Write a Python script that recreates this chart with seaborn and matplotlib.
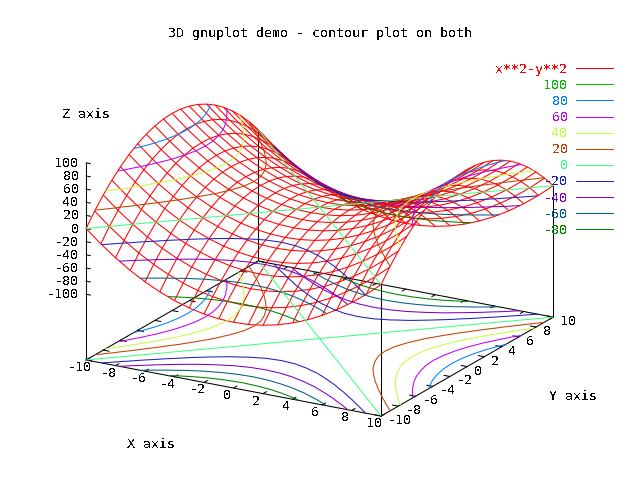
import matplotlib
matplotlib.use("Agg")
import matplotlib.pyplot as plt
from matplotlib.lines import Line2D
from mpl_toolkits.mplot3d import proj3d
import numpy as np
import seaborn as sns

x_samples = [-10, -9, -8, -7, -6, -5, -4, -3, -2, -1, 0, 1, 2, 3, 4, 5, 6, 7, 8, 9, 10]
y_samples = [-10, -9, -8, -7, -6, -5, -4, -3, -2, -1, 0, 1, 2, 3, 4, 5, 6, 7, 8, 9, 10]

# surface heights, one row per y sample
z_rows = [
    [0, -19, -36, -51, -64, -75, -84, -91, -96, -99, -100, -99, -96, -91, -84, -75, -64, -51, -36, -19, 0],
    [19, 0, -17, -32, -45, -56, -65, -72, -77, -80, -81, -80, -77, -72, -65, -56, -45, -32, -17, 0, 19],
    [36, 17, 0, -15, -28, -39, -48, -55, -60, -63, -64, -63, -60, -55, -48, -39, -28, -15, 0, 17, 36],
    [51, 32, 15, 0, -13, -24, -33, -40, -45, -48, -49, -48, -45, -40, -33, -24, -13, 0, 15, 32, 51],
    [64, 45, 28, 13, 0, -11, -20, -27, -32, -35, -36, -35, -32, -27, -20, -11, 0, 13, 28, 45, 64],
    [75, 56, 39, 24, 11, 0, -9, -16, -21, -24, -25, -24, -21, -16, -9, 0, 11, 24, 39, 56, 75],
    [84, 65, 48, 33, 20, 9, 0, -7, -12, -15, -16, -15, -12, -7, 0, 9, 20, 33, 48, 65, 84],
    [91, 72, 55, 40, 27, 16, 7, 0, -5, -8, -9, -8, -5, 0, 7, 16, 27, 40, 55, 72, 91],
    [96, 77, 60, 45, 32, 21, 12, 5, 0, -3, -4, -3, 0, 5, 12, 21, 32, 45, 60, 77, 96],
    [99, 80, 63, 48, 35, 24, 15, 8, 3, 0, -1, 0, 3, 8, 15, 24, 35, 48, 63, 80, 99],
    [100, 81, 64, 49, 36, 25, 16, 9, 4, 1, 0, 1, 4, 9, 16, 25, 36, 49, 64, 81, 100],
    [99, 80, 63, 48, 35, 24, 15, 8, 3, 0, -1, 0, 3, 8, 15, 24, 35, 48, 63, 80, 99],
    [96, 77, 60, 45, 32, 21, 12, 5, 0, -3, -4, -3, 0, 5, 12, 21, 32, 45, 60, 77, 96],
    [91, 72, 55, 40, 27, 16, 7, 0, -5, -8, -9, -8, -5, 0, 7, 16, 27, 40, 55, 72, 91],
    [84, 65, 48, 33, 20, 9, 0, -7, -12, -15, -16, -15, -12, -7, 0, 9, 20, 33, 48, 65, 84],
    [75, 56, 39, 24, 11, 0, -9, -16, -21, -24, -25, -24, -21, -16, -9, 0, 11, 24, 39, 56, 75],
    [64, 45, 28, 13, 0, -11, -20, -27, -32, -35, -36, -35, -32, -27, -20, -11, 0, 13, 28, 45, 64],
    [51, 32, 15, 0, -13, -24, -33, -40, -45, -48, -49, -48, -45, -40, -33, -24, -13, 0, 15, 32, 51],
    [36, 17, 0, -15, -28, -39, -48, -55, -60, -63, -64, -63, -60, -55, -48, -39, -28, -15, 0, 17, 36],
    [19, 0, -17, -32, -45, -56, -65, -72, -77, -80, -81, -80, -77, -72, -65, -56, -45, -32, -17, 0, 19],
    [0, -19, -36, -51, -64, -75, -84, -91, -96, -99, -100, -99, -96, -91, -84, -75, -64, -51, -36, -19, 0],
]

contour_levels = [100, 80, 60, 40, 20, 0, -20, -40, -60, -80]
level_colors = ["#00c000", "#0080ff", "#c000ff", "#c0ff40", "#c04000",
                "#40ff80", "#2020c0", "#8000c0", "#006080", "#008000"]
xy_ticks = [-10, -8, -6, -4, -2, 0, 2, 4, 6, 8, 10]
z_ticks = [100, 80, 60, 40, 20, 0, -20, -40, -60, -80, -100]

BASE_Z = -200
LW = 0.75

sns.set_style("white")
plt.rcParams["font.family"] = "DejaVu Sans Mono"
plt.rcParams["font.size"] = 9.6
plt.rcParams["text.color"] = "black"
plt.rcParams["text.antialiased"] = False

fig = plt.figure(figsize=(6.4, 4.8), dpi=100, facecolor="white")
ax = fig.add_axes([56.45 / 640, -23.15 / 480, 512.5 / 640, 512.5 / 480],
                  projection="3d", proj_type="ortho")
ax.view_init(elev=19.3, azim=-60.1)
ax.set_xlim(-10, 10)
ax.set_ylim(-10, 10)
ax.set_zlim(BASE_Z, 100)
ax.set_box_aspect((340, 345, 208.7))
ax.set_axis_off()
ax.computed_zorder = False


def line3d(xs, ys, zs, color="black", zorder=1):
    ax.plot(xs, ys, zs, color=color, lw=LW, zorder=zorder)


def label3d(x, y, z, s, ha):
    # flat text placed at the projected point of the box
    px, py, _ = proj3d.proj_transform(x, y, z, ax.get_proj())
    ax.text2D(px, py, s, transform=ax.transData, ha=ha, va="center")


# base rectangle and uprights to the surface corners
line3d([-10, 10, 10, -10, -10], [-10, -10, 10, 10, -10], [BASE_Z] * 5)
line3d([-10, -10], [-10, -10], [BASE_Z, 100])
line3d([10, 10], [-10, -10], [BASE_Z, 0])
line3d([10, 10], [10, 10], [BASE_Z, 0])
line3d([-10, -10], [10, 10], [BASE_Z, 0])

for t in xy_ticks:
    line3d([t, t], [-10, -9.6], [BASE_Z, BASE_Z])
    line3d([t, t], [10, 9.6], [BASE_Z, BASE_Z])
    line3d([-10, -9.6], [t, t], [BASE_Z, BASE_Z])
    line3d([10, 9.6], [t, t], [BASE_Z, BASE_Z])
    label3d(t + 0.33, -11.33, BASE_Z, str(t), "center")
    label3d(10.75, t - 0.48, BASE_Z, str(t), "left")

for t in z_ticks:
    line3d([-10, -9.7], [-10, -10], [t, t])
    label3d(-10.5, -10, t - 3, str(t), "right")

X, Y = np.meshgrid(x_samples, y_samples)
Z = np.array(z_rows, dtype=float)
ax.plot_wireframe(X, Y, Z, rstride=1, cstride=1, colors="#ff0000", linewidth=LW, zorder=2)

levels_up = contour_levels[::-1]
colors_up = sns.color_palette(level_colors[::-1], n_colors=len(level_colors))
ax.contour(X, Y, Z, levels=levels_up, colors=colors_up, linewidths=LW, zorder=3)
ax.contour(X, Y, Z, levels=levels_up, colors=colors_up, linewidths=LW,
           offset=BASE_Z, zdir="z", zorder=3)

handles = [Line2D([], [], color="#ff0000", lw=LW)]
labels = ["x**2-y**2"]
for lev, col in zip(contour_levels, level_colors):
    handles.append(Line2D([], [], color=col, lw=LW))
    labels.append(str(lev))
fig.legend(handles, labels, loc="upper right", bbox_to_anchor=(613 / 640, 1 - 63 / 480),
           markerfirst=False, frameon=False, labelcolor="linecolor", fontsize=9.6,
           handlelength=2.8, handletextpad=0.6, labelspacing=0.23, borderpad=0, borderaxespad=0)

fig.text(320 / 640, 1 - 33 / 480, "3D gnuplot demo - contour plot on both", ha="center", va="center")
fig.text(86 / 640, 1 - 115 / 480, "Z axis", ha="center", va="center")
fig.text(151 / 640, 1 - 445 / 480, "X axis", ha="center", va="center")
fig.text(573 / 640, 1 - 397 / 480, "Y axis", ha="center", va="center")

fig.savefig("out.png", dpi=100, facecolor="white")
